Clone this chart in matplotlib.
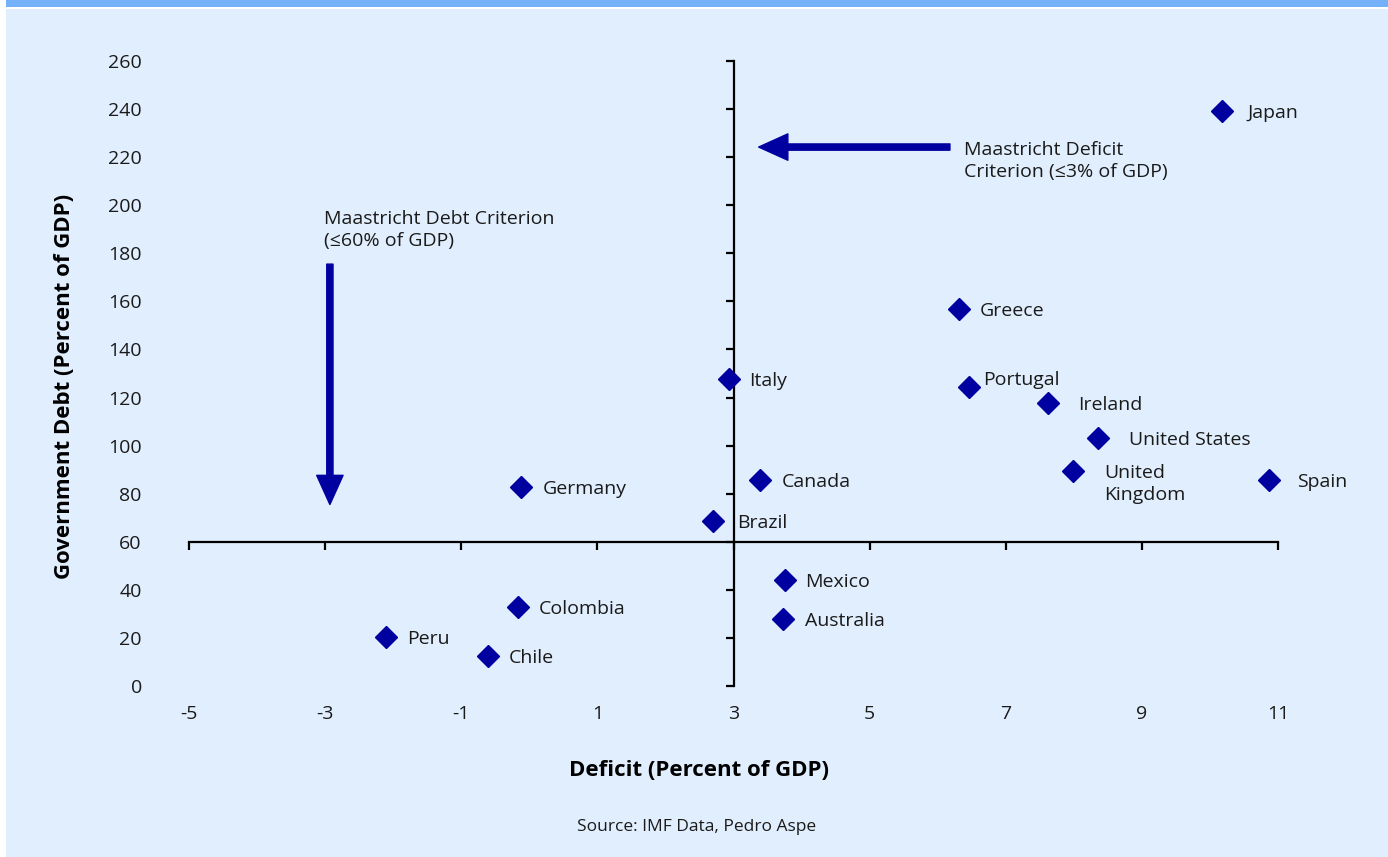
import matplotlib.pyplot as plt
from matplotlib.patches import Rectangle

plt.rcParams['font.family'] = ['Open Sans', 'DejaVu Sans']

# deficit (% of GDP) vs government debt (% of GDP)
countries = ["Japan", "Greece", "Portugal", "Ireland", "United States", "United\nKingdom",
             "Spain", "Italy", "Canada", "Brazil", "Germany", "Mexico", "Australia",
             "Colombia", "Peru", "Chile"]
deficit = [10.18, 6.31, 6.46, 7.62, 8.36, 7.99, 10.87, 2.93, 3.39, 2.70, -0.12, 3.76, 3.73,
           -0.17, -2.11, -0.61]
debt = [239.2, 156.8, 124.4, 117.7, 103.2, 89.4, 85.7, 127.7, 85.7, 68.6, 82.8, 44.1, 27.9,
        32.9, 20.4, 12.5]

xticks = [-5, -3, -1, 1, 3, 5, 7, 9, 11]
yticks = list(range(0, 261, 20))

# label offsets (pixels) and alignment
label_off = {"Portugal": (14, 7), "United\nKingdom": (31, 7)}
label_dx = {"Japan": 25, "Greece": 21, "Ireland": 30, "United States": 31, "Spain": 28,
            "Italy": 20, "Canada": 22, "Brazil": 24, "Germany": 22, "Mexico": 20,
            "Australia": 22, "Colombia": 21, "Peru": 21, "Chile": 21}

navy = '#0000A0'
txt = '#1a1a1a'
bg = '#E1EEFD'
fs = 14

fig = plt.figure(figsize=(13.88, 8.57), dpi=100)
fig.patch.set_facecolor('white')
fig.patches.append(Rectangle((6 / 1388, 0), 1, (857 - 9) / 857, transform=fig.transFigure,
                             facecolor=bg, edgecolor='none', zorder=-10))
fig.patches.append(Rectangle((6 / 1388, 1 - 7 / 857), 1, 7 / 857, transform=fig.transFigure,
                             facecolor='#74B1F8', edgecolor='none', zorder=-10))

ax = fig.add_axes([189 / 1388, 1 - 686 / 857, (1278 - 189) / 1388, (686 - 61) / 857])
ax.set_facecolor('none')
ax.set_xlim(-5, 11)
ax.set_ylim(0, 260)

ax.spines['left'].set_position(('data', 3))
ax.spines['bottom'].set_position(('data', 60))
ax.spines['top'].set_visible(False)
ax.spines['right'].set_visible(False)
for s in ['left', 'bottom']:
    ax.spines[s].set_linewidth(1.6)
ax.set_xticks(xticks)
ax.set_yticks(yticks)
ax.tick_params(labelleft=False, labelbottom=False, direction='out', length=6, width=1.6)

secy = ax.secondary_yaxis('left')
secy.set_yticks(yticks)
secy.spines['left'].set_visible(False)
secy.tick_params(length=0, pad=34, labelsize=fs, labelcolor=txt)

secx = ax.secondary_xaxis('bottom')
secx.set_xticks(xticks)
secx.set_xticklabels([str(t) for t in xticks])
secx.spines['bottom'].set_visible(False)
secx.tick_params(length=0, pad=14, labelsize=fs, labelcolor=txt)

ax.plot(deficit, debt, 'D', color=navy, ms=11.5, mec=navy, zorder=5, clip_on=False)

for name, x, y in zip(countries, deficit, debt):
    if name in label_off:
        dx, dy = label_off[name]
        ax.annotate(name, (x, y), xytext=(dx, dy), textcoords='offset pixels',
                    ha='left', va='top' if '\n' in name else 'center', fontsize=fs,
                    color=txt, linespacing=1.3)
    else:
        ax.annotate(name, (x, y), xytext=(label_dx[name], -2), textcoords='offset pixels',
                    ha='left', va='center', fontsize=fs, color=txt)

arrow = dict(width=4.5, headwidth=19, headlength=21, color=navy, shrink=0)
ax.annotate('', xy=(3.37, 224.2), xytext=(6.18, 224.2), arrowprops=arrow)
ax.annotate('', xy=(-2.93, 75.5), xytext=(-2.93, 175.5), arrowprops=arrow)
ax.text(6.39, 218.5, 'Maastricht Deficit\nCriterion (≤3% of GDP)', ha='left', va='center',
        fontsize=fs, color=txt, linespacing=1.3)
ax.text(-3.02, 189.6, 'Maastricht Debt Criterion\n(≤60% of GDP)', ha='left', va='center',
        fontsize=fs, color=txt, linespacing=1.3)

fig.text(65 / 1388, 1 - 386 / 857, 'Government Debt (Percent of GDP)', rotation=90,
         ha='center', va='center', fontsize=16, fontweight='bold', color='black')
fig.text(699 / 1388, 1 - 771 / 857, 'Deficit (Percent of GDP)', ha='center', va='center',
         fontsize=16, fontweight='bold', color='black')
fig.text(697 / 1388, 1 - 827 / 857, 'Source: IMF Data, Pedro Aspe', ha='center', va='center',
         fontsize=12.5, color=txt)

fig.savefig('out.png', dpi=100, facecolor=fig.get_facecolor())
